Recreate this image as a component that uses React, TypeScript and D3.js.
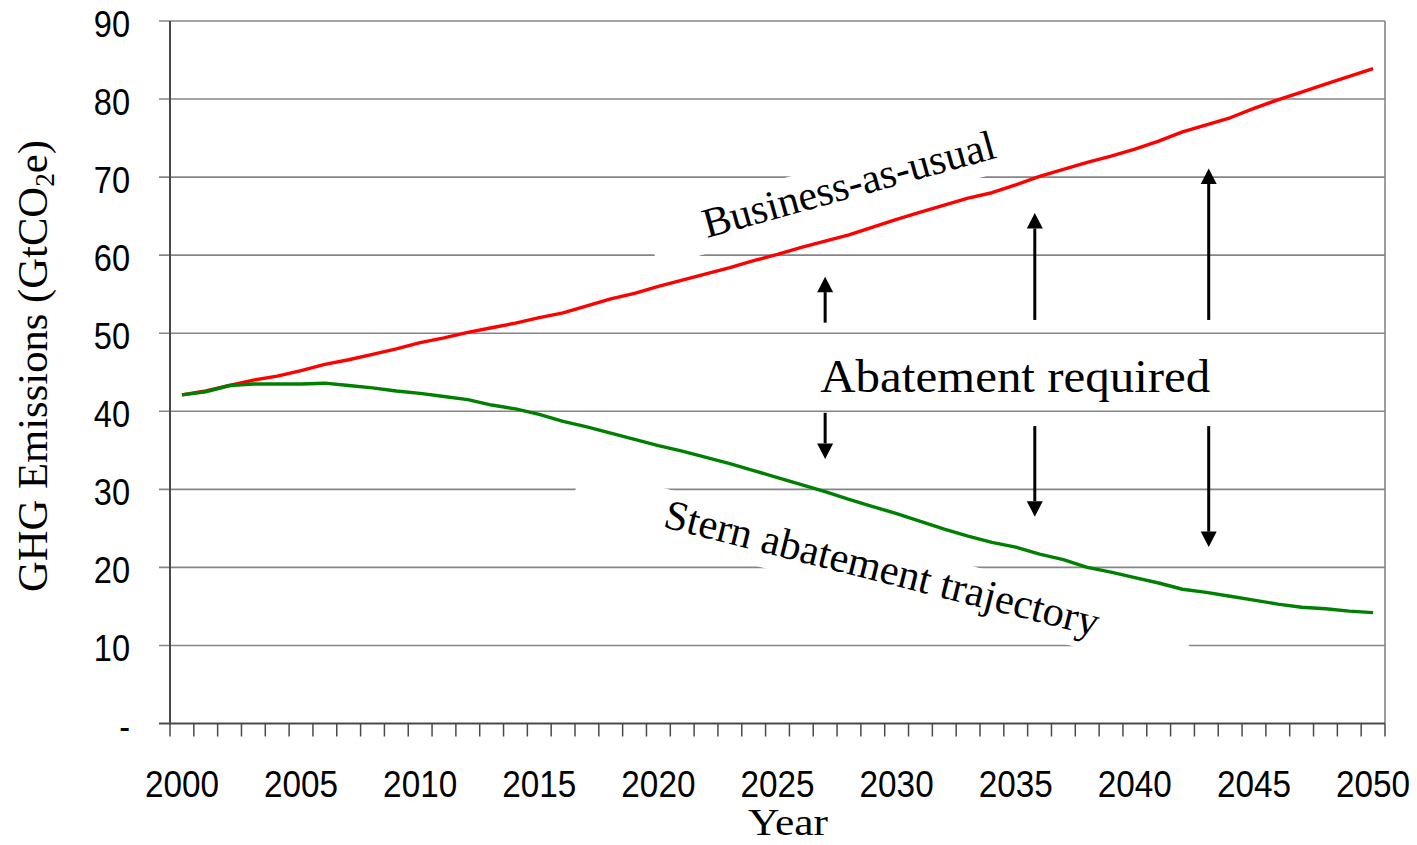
import React from 'react';
import * as d3 from 'd3';

const years = [
  2000, 2001, 2002, 2003, 2004, 2005, 2006, 2007, 2008, 2009,
  2010, 2011, 2012, 2013, 2014, 2015, 2016, 2017, 2018, 2019,
  2020, 2021, 2022, 2023, 2024, 2025, 2026, 2027, 2028, 2029,
  2030, 2031, 2032, 2033, 2034, 2035, 2036, 2037, 2038, 2039,
  2040, 2041, 2042, 2043, 2044, 2045, 2046, 2047, 2048, 2049, 2050,
];

const businessAsUsual = [
  42.1, 42.6, 43.3, 44.0, 44.5, 45.2, 46.0, 46.6, 47.3, 48.0,
  48.8, 49.4, 50.1, 50.7, 51.3, 52.0, 52.6, 53.5, 54.4, 55.1,
  56.0, 56.8, 57.6, 58.4, 59.3, 60.1, 61.0, 61.8, 62.6, 63.6,
  64.6, 65.5, 66.4, 67.3, 68.0, 69.0, 70.1, 71.0, 71.9, 72.7,
  73.6, 74.6, 75.8, 76.7, 77.6, 78.8, 79.9, 80.9, 81.9, 82.9, 83.9,
];

const sternTrajectory = [
  42.1, 42.5, 43.3, 43.5, 43.5, 43.5, 43.6, 43.3, 43.0, 42.6,
  42.3, 41.9, 41.5, 40.8, 40.3, 39.6, 38.7, 38.0, 37.2, 36.4,
  35.6, 34.9, 34.1, 33.3, 32.4, 31.5, 30.6, 29.7, 28.7, 27.8,
  26.9, 25.9, 24.9, 24.0, 23.2, 22.6, 21.7, 21.0, 20.0, 19.4,
  18.7, 18.0, 17.2, 16.8, 16.3, 15.8, 15.3, 14.9, 14.7, 14.4, 14.2,
];

const yTickValues = [0, 10, 20, 30, 40, 50, 60, 70, 80, 90];
const yTickLabels = ['-', '10', '20', '30', '40', '50', '60', '70', '80', '90'];
const xLabelYears = [2000, 2005, 2010, 2015, 2020, 2025, 2030, 2035, 2040, 2045, 2050];

// Annotation arrows (year, start value, tip value)
const arrowYears = [2027, 2027, 2035.8, 2035.8, 2043.1, 2043.1];
const arrowFrom = [51.35, 39.8, 51.7, 38.1, 51.7, 38.1];
const arrowTo = [57.25, 33.9, 65.4, 26.5, 71.1, 22.6];

const W = 1417;
const H = 845;
const plotLeft = 170;
const plotRight = 1385;
const plotTop = 21;
const plotBottom = 723.5;

const SANS = '"Liberation Sans", Arial, sans-serif';
const SERIF = '"Liberation Serif", "Times New Roman", serif';

export default function App() {
  const x = d3.scalePoint<number>().domain(years).range([plotLeft, plotRight]).padding(0.5);
  const step = x.step();
  const xLin = d3.scaleLinear().domain([2000, 2050]).range([x(2000)!, x(2050)!]);
  const y = d3.scaleLinear().domain([0, 90]).range([plotBottom, plotTop]);

  const lineGen = d3
    .line<number>()
    .x((_, i) => x(years[i])!)
    .y((d) => y(d));

  const boundaries = years.map((yr) => x(yr)! - step / 2).concat([x(2050)! + step / 2]);

  const gridColor = '#858585';
  const axisColor = '#4a4a4a';

  // annotation anchors (data units)
  const bauLabel = { year: 2022.04, value: 62.2 };
  const sternLabel = { year: 2020.15, value: 25.2 };
  const abateLabel = { year: 2034.98, value: 42.47 };

  return (
    <svg
      width={W}
      height={H}
      style={{ position: 'absolute', left: 0, top: 0, background: '#fff' }}
    >
      <rect x={0} y={0} width={W} height={H} fill="#fff" />

      {/* gridlines */}
      {yTickValues.filter((v) => v > 0).map((v) => (
        <line
          key={'g' + v}
          x1={159}
          x2={plotRight}
          y1={y(v)}
          y2={y(v)}
          stroke={gridColor}
          strokeWidth={1.6}
        />
      ))}
      {/* right border */}
      <line x1={plotRight} x2={plotRight} y1={plotTop} y2={plotBottom} stroke={gridColor} strokeWidth={1.6} />

      {/* white label boxes that mask gridlines */}
      <g transform={`translate(${xLin(bauLabel.year)},${y(bauLabel.value)}) rotate(-15.5)`}>
        <rect x={-55} y={-37} width={375} height={52} fill="#fff" />
      </g>
      <g transform={`translate(${xLin(sternLabel.year)},${y(sternLabel.value)}) rotate(14.2)`}>
        <rect x={-93} y={-38} width={633} height={53} fill="#fff" />
      </g>

      {/* axes */}
      <line x1={plotLeft} x2={plotLeft} y1={plotTop} y2={plotBottom} stroke={axisColor} strokeWidth={2} />
      <line x1={159} x2={plotRight} y1={plotBottom} y2={plotBottom} stroke={axisColor} strokeWidth={2} />
      {boundaries.map((bx, i) => (
        <line
          key={'t' + i}
          x1={bx}
          x2={bx}
          y1={plotBottom}
          y2={plotBottom + 13}
          stroke={axisColor}
          strokeWidth={1.5}
        />
      ))}

      {/* y tick labels */}
      {yTickValues.map((v, i) => (
        <text
          key={'yl' + v}
          transform={`translate(130,${y(v) + 15.5}) scale(0.88,1)`}
          textAnchor="end"
          fontFamily={SANS}
          fontSize={37}
          fill="#000"
        >
          {yTickLabels[i]}
        </text>
      ))}

      {/* x tick labels */}
      {xLabelYears.map((yr) => (
        <text
          key={'xl' + yr}
          transform={`translate(${x(yr)},797) scale(0.9,1)`}
          textAnchor="middle"
          fontFamily={SANS}
          fontSize={37}
          fill="#000"
        >
          {yr}
        </text>
      ))}

      {/* series lines */}
      <path d={lineGen(businessAsUsual)!} fill="none" stroke="#ff0000" strokeWidth={3.4} strokeLinejoin="round" />
      <path d={lineGen(sternTrajectory)!} fill="none" stroke="#008000" strokeWidth={3.4} strokeLinejoin="round" />

      {/* arrows */}
      {arrowYears.map((yr, i) => {
        const ax = xLin(yr);
        const y0 = y(arrowFrom[i]);
        const y1 = y(arrowTo[i]);
        const dir = y1 < y0 ? -1 : 1;
        const headLen = 15.5;
        const headHalf = 8;
        const baseY = y1 - dir * headLen;
        return (
          <g key={'a' + i}>
            <line x1={ax} x2={ax} y1={y0} y2={baseY} stroke="#000" strokeWidth={3} />
            <path
              d={`M${ax},${y1} L${ax - headHalf},${baseY} L${ax + headHalf},${baseY} Z`}
              fill="#000"
            />
          </g>
        );
      })}

      {/* annotation texts */}
      <g transform={`translate(${xLin(bauLabel.year)},${y(bauLabel.value)}) rotate(-15.5)`}>
        <text x={0} y={0} fontFamily={SERIF} fontSize={42} textLength={302} lengthAdjust="spacingAndGlyphs" fill="#000">
          Business-as-usual
        </text>
      </g>
      <g transform={`translate(${xLin(sternLabel.year)},${y(sternLabel.value)}) rotate(14.2)`}>
        <text x={0} y={0} fontFamily={SERIF} fontSize={42} textLength={447} lengthAdjust="spacingAndGlyphs" fill="#000">
          Stern abatement trajectory
        </text>
      </g>
      <text
        x={xLin(abateLabel.year)}
        y={y(abateLabel.value)}
        textAnchor="middle"
        fontFamily={SERIF}
        fontSize={47}
        textLength={390}
        lengthAdjust="spacingAndGlyphs"
        fill="#000"
      >
        Abatement required
      </text>

      {/* axis titles */}
      <g transform="translate(46.7,366) rotate(-90)">
        <text
          x={0}
          y={0}
          textAnchor="middle"
          fontFamily={SERIF}
          fontSize={42}
          textLength={452}
          lengthAdjust="spacingAndGlyphs"
          fill="#000"
        >
          GHG Emissions (GtCO
          <tspan fontSize={27} dy={7}>2</tspan>
          <tspan dy={-7}>e)</tspan>
        </text>
      </g>
      <text
        x={788}
        y={835}
        textAnchor="middle"
        fontFamily={SERIF}
        fontSize={38}
        textLength={80}
        lengthAdjust="spacingAndGlyphs"
        fill="#000"
      >
        Year
      </text>
    </svg>
  );
}
